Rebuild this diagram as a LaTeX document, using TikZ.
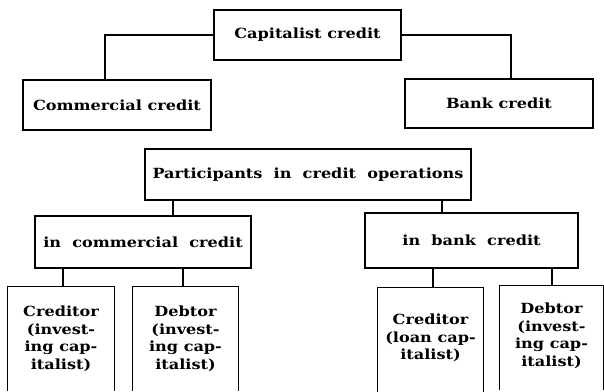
\documentclass[tikz,border=0pt]{standalone}
\usepackage{fontspec}
\setmainfont{DejaVu Serif}[FakeStretch=1.15]
\begin{document}
\begin{tikzpicture}[x=1pt,y=-1pt,
  every node/.style={font=\fontsize{14}{17.5}\selectfont\bfseries, inner sep=0pt, align=center},
  box/.style={draw, line width=1.1pt},
  openbox/.style={minimum width=#1, minimum height=104pt},
  link/.style={line width=1.1pt}]
\useasboundingbox (0,0) rectangle (604,391);
% level 1
\node[box, minimum width=187pt, minimum height=50pt] (cap) at (307.5,35) {Capitalist credit};
\node[box, minimum width=188pt, minimum height=50pt] (com) at (117,105) {Commercial credit};
\node[box, minimum width=188pt, minimum height=49pt] (bank) at (499,103.5) {Bank credit};
\draw[link] (cap.west) -| ([xshift=-12pt]com.north);
\draw[link] (cap.east) -| ([xshift=12pt]bank.north);
% level 2
\node[box, minimum width=326pt, minimum height=51pt] (part) at (308,174.5) {Participants\ \ in\ \ credit\ \ operations};
\node[box, minimum width=216pt, minimum height=52pt] (incom) at (143,242) {in\ \ commercial\ \ credit};
\node[box, minimum width=213pt, minimum height=55pt] (inbank) at (471.5,240.5) {in\ \ bank\ \ credit};
\draw[link] ([xshift=30pt]incom.north) -- ([xshift=30pt]incom.north |- part.south);
\draw[link] ([xshift=-29.5pt]inbank.north) -- ([xshift=-29.5pt]inbank.north |- part.south);
% level 3 (open at the bottom edge)
\node[openbox=106pt] (c1) at (61,339) {Creditor\\(invest-\\ing cap-\\italist)};
\node[openbox=105pt] (d1) at (185.5,339) {Debtor\\(invest-\\ing cap-\\italist)};
\node[openbox=105pt] (c2) at (430.5,338) {Creditor\\(loan cap-\\italist)};
\node[openbox=103pt] (d2) at (551.5,336) {Debtor\\(invest-\\ing cap-\\italist)};
\draw[link] (c1.south west) -- (c1.north west) -- (c1.north east) -- (c1.south east);
\draw[link] (d1.south west) -- (d1.north west) -- (d1.north east) -- (d1.south east);
\draw[link] ([yshift=-2pt]c2.south west) -- ([yshift=-2pt]c2.north west) -- ([yshift=-2pt]c2.north east) -- ([yshift=-2pt]c2.south east);
\draw[link] ([yshift=-2pt]d2.south west) -- ([yshift=-2pt]d2.north west) -- ([yshift=-2pt]d2.north east) -- ([yshift=-2pt]d2.south east);
\draw[link] ([xshift=2pt]c1.north) -- ([xshift=2pt]c1.north |- incom.south);
\draw[link] ([xshift=-2.5pt]d1.north) -- ([xshift=-2.5pt]d1.north |- incom.south);
\draw[link] ([xshift=2.5pt,yshift=-2pt]c2.north) -- ([xshift=2.5pt]c2.north |- inbank.south);
\draw[link] ([xshift=0.5pt,yshift=-2pt]d2.north) -- ([xshift=0.5pt]d2.north |- inbank.south);
\end{tikzpicture}
\end{document}
